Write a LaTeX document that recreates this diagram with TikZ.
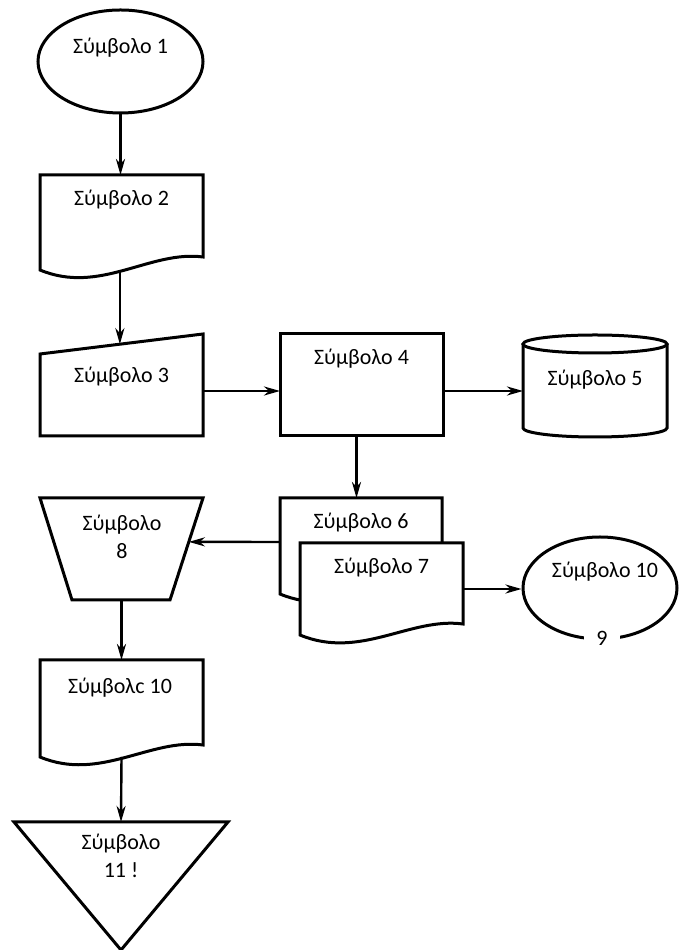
\documentclass[tikz,border=0pt]{standalone}
\usepackage{fontspec}
\setmainfont{Carlito}
\usetikzlibrary{shapes.geometric, arrows.meta, calc}

\newcommand{\docpath}[2]{(#1.south west) -- (#1.north west) -- (#1.north east) -- ([yshift=#2]#1.south east) .. controls +(-53pt,7pt) and +(60pt,-25pt) .. (#1.south west) -- cycle}

\begin{document}
\begin{tikzpicture}[
			x=1pt, y=1pt,
			box/.style={
				rectangle,
				inner sep=0pt,
				outer sep=0pt
			},
			outline/.style={line width=3pt, line join=miter},
			caption/.style={
				inner sep=0pt,
				align=center,
				font=\fontsize{22}{28}\selectfont
			},
			arrow/.style={-{Stealth[length=16pt,width=9pt,inset=5pt]}, line width=2.4pt}
			]
			
			\useasboundingbox (0,0) rectangle (678,950);
			
			\node (s1) [ellipse, draw, outline, inner sep=0pt, minimum width=165pt, minimum height=103pt] at (120.5,888.5) {};
			\node (s1t) [caption] at (120.5,902) {Σύμβολο 1};
			
			\node (s2) [box, minimum width=163pt, minimum height=95pt] at (121.5,727.5) {};
			\draw [outline] \docpath{s2}{13pt};
			\node (s2t) [caption] at (121.5,750) {Σύμβολο 2};
			
			\node (s3) [box, minimum width=163pt, minimum height=102pt] at (121.5,565) {};
			\draw [outline] (s3.south west) -- ([yshift=-20pt]s3.north west) -- (s3.north east) -- (s3.south east) -- cycle;
			\coordinate (s3in) at ($([yshift=-20pt]s3.north west)!0.49!(s3.north east)$);
			\node (s3t) [caption] at (121.5,573) {Σύμβολο 3};
			
			\node (s4) [box, draw, outline, minimum width=163pt, minimum height=102pt] at (361.5,565) {};
			\node (s4t) [caption] at (361.5,591) {Σύμβολο 4};
			
			\node (s5) [box, minimum width=144pt, minimum height=102pt] at (595,564) {};
			\draw [outline] ([yshift=-9pt]s5.north west) -- ([yshift=9pt]s5.south west) arc [start angle=180, end angle=360, x radius=72pt, y radius=9pt] -- ([yshift=-9pt]s5.north east);
			\draw [outline] ([yshift=-9pt]s5.north) ellipse [x radius=72pt, y radius=9pt];
			\node (s5t) [caption] at (595,570) {Σύμβολο 5};
			
			\node (s6) [box, minimum width=162pt, minimum height=96pt] at (361,404) {};
			\draw [outline] \docpath{s6}{12pt};
			\node (s6t) [caption] at (361,427) {Σύμβολο 6};
			
			\node (s7) [box, minimum width=163pt, minimum height=92pt] at (381.5,361) {};
			\draw [outline, fill=white] \docpath{s7}{11pt};
			\node (s7t) [caption] at (381.5,382) {Σύμβολο 7};
			
			\node (s8) [box, minimum width=163pt, minimum height=102pt] at (121.5,401) {};
			\draw [outline] (s8.north west) -- (s8.north east) -- ([xshift=-33pt]s8.south east) -- ([xshift=32pt]s8.south west) -- cycle;
			\coordinate (s8in) at ($(s8.north east)!0.43!([xshift=-33pt]s8.south east)$);
			\node (s8t) [caption] at (122,413) {Σύμβολο\\8};
			
			\node (s9) [ellipse, draw, outline, inner sep=0pt, minimum width=154pt, minimum height=102pt] at (600,362) {};
			\node (s9t) [caption] at (605,378) {Σύμβολο 10};
			\node (s9n) [caption, fill=white, inner xsep=12pt, inner ysep=2pt] at (602,312) {9};
			
			\node (s10) [box, minimum width=163pt, minimum height=97pt] at (121.5,241.5) {};
			\draw [outline] \docpath{s10}{12pt};
			\node (s10t) [caption] at (120,262) {Σύμβολc 10};
			
			\node (s11) [box, minimum width=214pt, minimum height=128pt] at (121,64) {};
			\draw [outline] (s11.north west) -- (s11.north east) -- (s11.south) -- cycle;
			\node (s11t) [caption] at (121,94) {Σύμβολο\\11 !};
			
			\draw [arrow] (s1.south) -- (s1.south |- s2.north);
			\draw [arrow] (s3in |- s2.south) -- (s3in);
			\draw [arrow] ([yshift=-6pt]s3.east) -- ([yshift=-6pt]s4.west);
			\draw [arrow] ([yshift=-6pt]s4.east) -- ([yshift=-6pt]s4.east -| s5.west);
			\draw [arrow] ([xshift=-5pt]s4.south) -- ([xshift=-5pt]s4.south |- s6.north);
			\draw [arrow] ([yshift=4pt]s6.west) -- (s8in);
			\draw [arrow] (s7.east) -- (s7.east -| s9.west);
			\draw [arrow] (s8.south) -- (s8.south |- s10.north);
			\draw [arrow] (s10.south) -- (s11.north);
			
		\end{tikzpicture}
\end{document}
